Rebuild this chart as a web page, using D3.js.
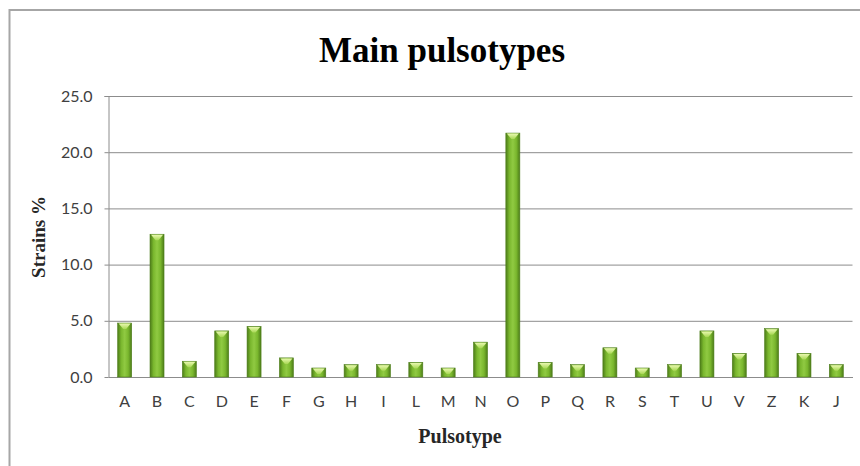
<!DOCTYPE html>
<html>
<head>
<meta charset="utf-8">
<script src="https://cdn.jsdelivr.net/npm/d3@7"></script>
<style>
  body { margin: 0; background: #fff; }
  svg { display: block; }
  .tick text { font-family: Lato, "Open Sans", sans-serif; font-size: 16px; fill: #404040; }
</style>
</head>
<body>
<svg id="chart" width="860" height="466"></svg>
<script>
  var categories = ['A', 'B', 'C', 'D', 'E', 'F', 'G', 'H', 'I', 'L', 'M', 'N', 'O', 'P', 'Q', 'R', 'S', 'T', 'U', 'V', 'Z', 'K', 'J']
  var strains = [4.8, 12.7, 1.4, 4.1, 4.5, 1.7, 0.8, 1.1, 1.1, 1.3, 0.8, 3.1, 21.7, 1.3, 1.1, 2.6, 0.8, 1.1, 4.1, 2.1, 4.3, 2.1, 1.1]
  var yTicks = [0, 5, 10, 15, 20, 25]

  var data = categories.map(function (c, i) { return { name: c, value: strains[i] } })

  var margin = { top: 96, right: 7.5, bottom: 89, left: 108.5 },
      width = 860 - margin.left - margin.right,
      height = 466 - margin.top - margin.bottom

  var svg = d3.select('#chart')

  // outer frame (top + left edges visible)
  svg.append('path')
      .attr('d', 'M9.5,466 V10 H860')
      .attr('fill', 'none')
      .attr('stroke', '#a6a6a6')
      .attr('stroke-width', 2)

  var defs = svg.append('defs')
  var grad = defs.append('linearGradient').attr('id', 'barGrad')
      .attr('x1', '0%').attr('x2', '100%').attr('y1', '0%').attr('y2', '0%')
  grad.append('stop').attr('offset', '0%').attr('stop-color', '#4c7c18')
  grad.append('stop').attr('offset', '25%').attr('stop-color', '#7ab72e')
  grad.append('stop').attr('offset', '50%').attr('stop-color', '#90ca42')
  grad.append('stop').attr('offset', '75%').attr('stop-color', '#7ab72e')
  grad.append('stop').attr('offset', '100%').attr('stop-color', '#4c7c18')

  var capGrad = defs.append('linearGradient').attr('id', 'capGrad')
      .attr('x1', '0%').attr('x2', '0%').attr('y1', '0%').attr('y2', '100%')
  capGrad.append('stop').attr('offset', '0%').attr('stop-color', '#eaf9b0')
  capGrad.append('stop').attr('offset', '100%').attr('stop-color', '#a8d855')

  var g = svg.append('g')
      .attr('transform', 'translate(' + margin.left + ',' + margin.top + ')')

  var x = d3.scaleBand()
      .domain(categories)
      .range([0, width])
      .paddingInner(0.567)
      .paddingOuter(0.2835)

  var y = d3.scaleLinear()
      .domain([0, 25])
      .range([height, 0])

  // gridlines
  g.append('g')
      .attr('class', 'grid')
      .call(d3.axisLeft(y).tickValues(yTicks).tickSize(-width).tickFormat(''))
      .call(function (s) {
          s.select('.domain').remove()
          s.selectAll('line').attr('stroke', '#8c8c8c').attr('stroke-width', 1)
      })

  // y axis
  g.append('g')
      .call(d3.axisLeft(y).tickValues(yTicks).tickSize(4).tickPadding(12).tickFormat(d3.format('.1f')))
      .call(function (s) {
          s.select('.domain').attr('stroke', '#8c8c8c').attr('d', 'M-4,0.5H0.5V' + (height + 0.5))
          s.selectAll('.tick line').attr('stroke', '#8c8c8c')
      })

  // x axis
  g.append('g')
      .attr('transform', 'translate(0,' + height + ')')
      .call(d3.axisBottom(x).tickSize(0).tickPadding(19))
      .call(function (s) {
          s.select('.domain').attr('stroke', '#8c8c8c')
      })

  // bars
  var bars = g.selectAll('.bar')
      .data(data)
      .enter()
      .append('g')
      .attr('class', 'bar')

  bars.append('rect')
      .attr('x', function (d) { return x(d.name) })
      .attr('y', function (d) { return y(d.value) })
      .attr('width', x.bandwidth())
      .attr('height', function (d) { return height - y(d.value) })
      .attr('fill', 'url(#barGrad)')
      .attr('stroke', '#4f7f1c')
      .attr('stroke-width', 0.6)

  // bevel highlight on top of each bar
  bars.append('path')
      .attr('d', function (d) {
          var x0 = x(d.name) + 1, x1 = x(d.name) + x.bandwidth() - 1, y0 = y(d.value) + 0.5
          var xm = x(d.name) + x.bandwidth() / 2
          return 'M' + x0 + ',' + y0 + 'H' + x1 + 'L' + (xm + 1.5) + ',' + (y0 + 5.5) + 'H' + (xm - 1.5) + 'Z'
      })
      .attr('fill', 'url(#capGrad)')

  // title
  svg.append('text')
      .attr('x', 442)
      .attr('y', 62)
      .attr('text-anchor', 'middle')
      .style('font-family', '"Liberation Serif", serif')
      .style('font-weight', 'bold')
      .style('font-size', '35px')
      .style('fill', '#000')
      .text('Main pulsotypes')

  // axis titles
  svg.append('text')
      .attr('transform', 'translate(45,237) rotate(-90)')
      .attr('text-anchor', 'middle')
      .style('font-family', '"Liberation Serif", serif')
      .style('font-weight', 'bold')
      .style('font-size', '19px')
      .style('fill', '#262626')
      .text('Strains %')

  svg.append('text')
      .attr('x', 460)
      .attr('y', 443)
      .attr('text-anchor', 'middle')
      .style('font-family', '"Liberation Serif", serif')
      .style('font-weight', 'bold')
      .style('font-size', '20px')
      .style('fill', '#262626')
      .text('Pulsotype')
</script>
</body>
</html>
